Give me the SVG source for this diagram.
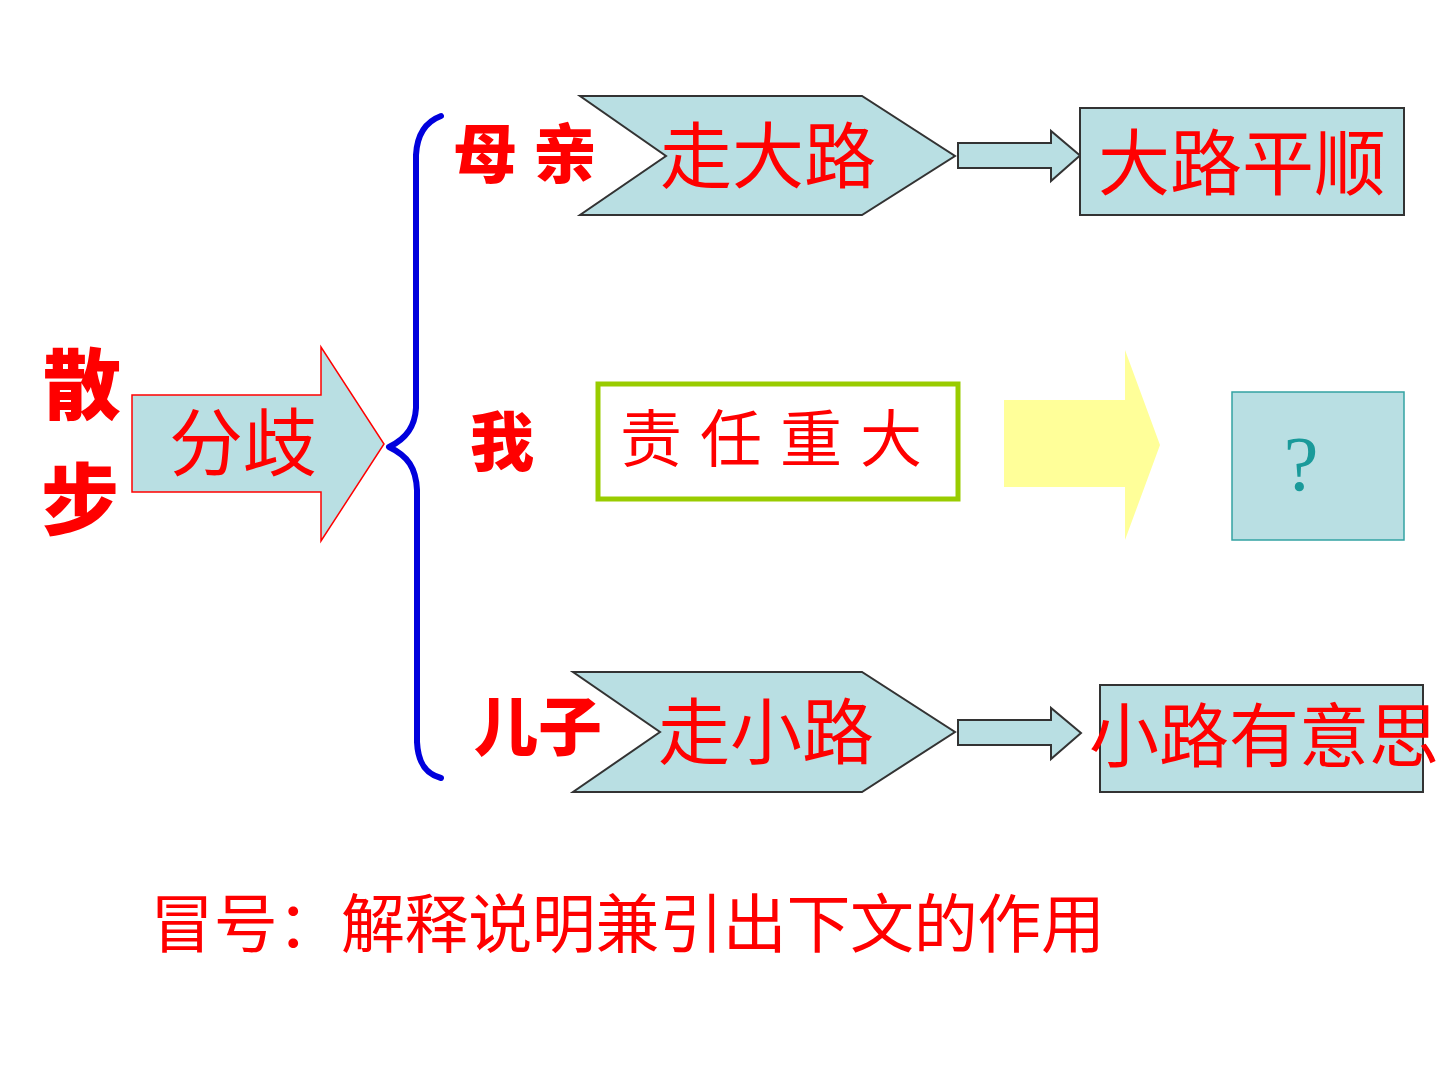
<svg xmlns="http://www.w3.org/2000/svg" width="1440" height="1080" viewBox="0 0 1440 1080">
<style>
.cal{font-family:"Noto Sans CJK SC","Noto Sans CJK JP",sans-serif;font-weight:900;fill:#ff0000;}
.reg{font-family:"Noto Sans CJK SC","Noto Sans CJK JP",sans-serif;font-weight:400;fill:#ff0000;}
.box{fill:#b9dfe3;stroke:#333333;stroke-width:2;}
</style>
<rect width="1440" height="1080" fill="#ffffff"/>
<g id="title">
<text class="cal" x="82" y="414" font-size="78" text-anchor="middle">散</text>
<text class="cal" x="80" y="529" font-size="78" text-anchor="middle">步</text>
</g>
<g id="fenqi">
<polygon points="132,395 321,395 321,347 384,444 321,541 321,492 132,492" fill="#b9dfe3" stroke="#ff0000" stroke-width="1.5"/>
<text class="reg" x="243" y="470" font-size="74" text-anchor="middle">分歧</text>
</g>
<g id="connectors">
<path d="M441,116 C425,122 417,135 416,155 L416,408 C415,425 408,438 389,447 C408,456 416,468 417,490 L417,742 C418,762 425,774 441,778" fill="none" stroke="#0000dd" stroke-width="6" stroke-linecap="round" stroke-linejoin="round"/>
<polygon points="958,143 1051,143 1051,131 1080,155.5 1051,181 1051,168 958,168" fill="#b9dfe3" stroke="#333333" stroke-width="2"/>
<polygon points="958,720 1051,720 1051,708 1081,733 1051,759 1051,745 958,745" fill="#b9dfe3" stroke="#333333" stroke-width="2"/>
<polygon points="1004,400 1125,400 1125,350 1160,445 1125,540 1125,487 1004,487" fill="#ffff99"/>
</g>
<g id="mother">
<text class="cal" x="533" y="177" font-size="64" text-anchor="middle" letter-spacing="16">母亲</text>
</g>
<g id="dalu">
<polygon points="580,96 862,96 955,156 862,215 580,215 666,156" class="box"/>
<text class="reg" x="768" y="182" font-size="72" text-anchor="middle">走大路</text>
</g>
<g id="dalupingshun">
<rect x="1080" y="108" width="324" height="107" class="box"/>
<text class="reg" x="1242" y="189" font-size="72" text-anchor="middle">大路平顺</text>
</g>
<g id="me">
<text class="cal" x="502" y="465" font-size="64" text-anchor="middle">我</text>
</g>
<g id="zeren">
<rect x="598" y="384" width="360" height="115" fill="#ffffff" stroke="#99cc00" stroke-width="5"/>
<text class="reg" x="780" y="462" font-size="62" text-anchor="middle" letter-spacing="18">责任重大</text>
</g>
<g id="question">
<rect x="1232" y="392" width="172" height="148" fill="#b9dfe3" stroke="#33a3a3" stroke-width="1.5"/>
<text x="1301" y="490" font-family="Liberation Serif, serif" font-size="78" fill="#1a9a9a" text-anchor="middle">?</text>
</g>
<g id="son">
<text class="cal" x="538" y="750" font-size="64" text-anchor="middle">儿子</text>
</g>
<g id="xiaolu">
<polygon points="573,672 862,672 955,732 862,792 573,792 660,732" class="box"/>
<text class="reg" x="766" y="758" font-size="72" text-anchor="middle">走小路</text>
</g>
<g id="xiaoluyouyisi">
<rect x="1100" y="685" width="323" height="107" class="box"/>
<text class="reg" x="1264" y="762" font-size="70" text-anchor="middle">小路有意思</text>
</g>
<g id="note">
<text class="reg" x="150" y="947" font-size="64" textLength="955" lengthAdjust="spacing">冒号：解释说明兼引出下文的作用</text>
</g>
</svg>
